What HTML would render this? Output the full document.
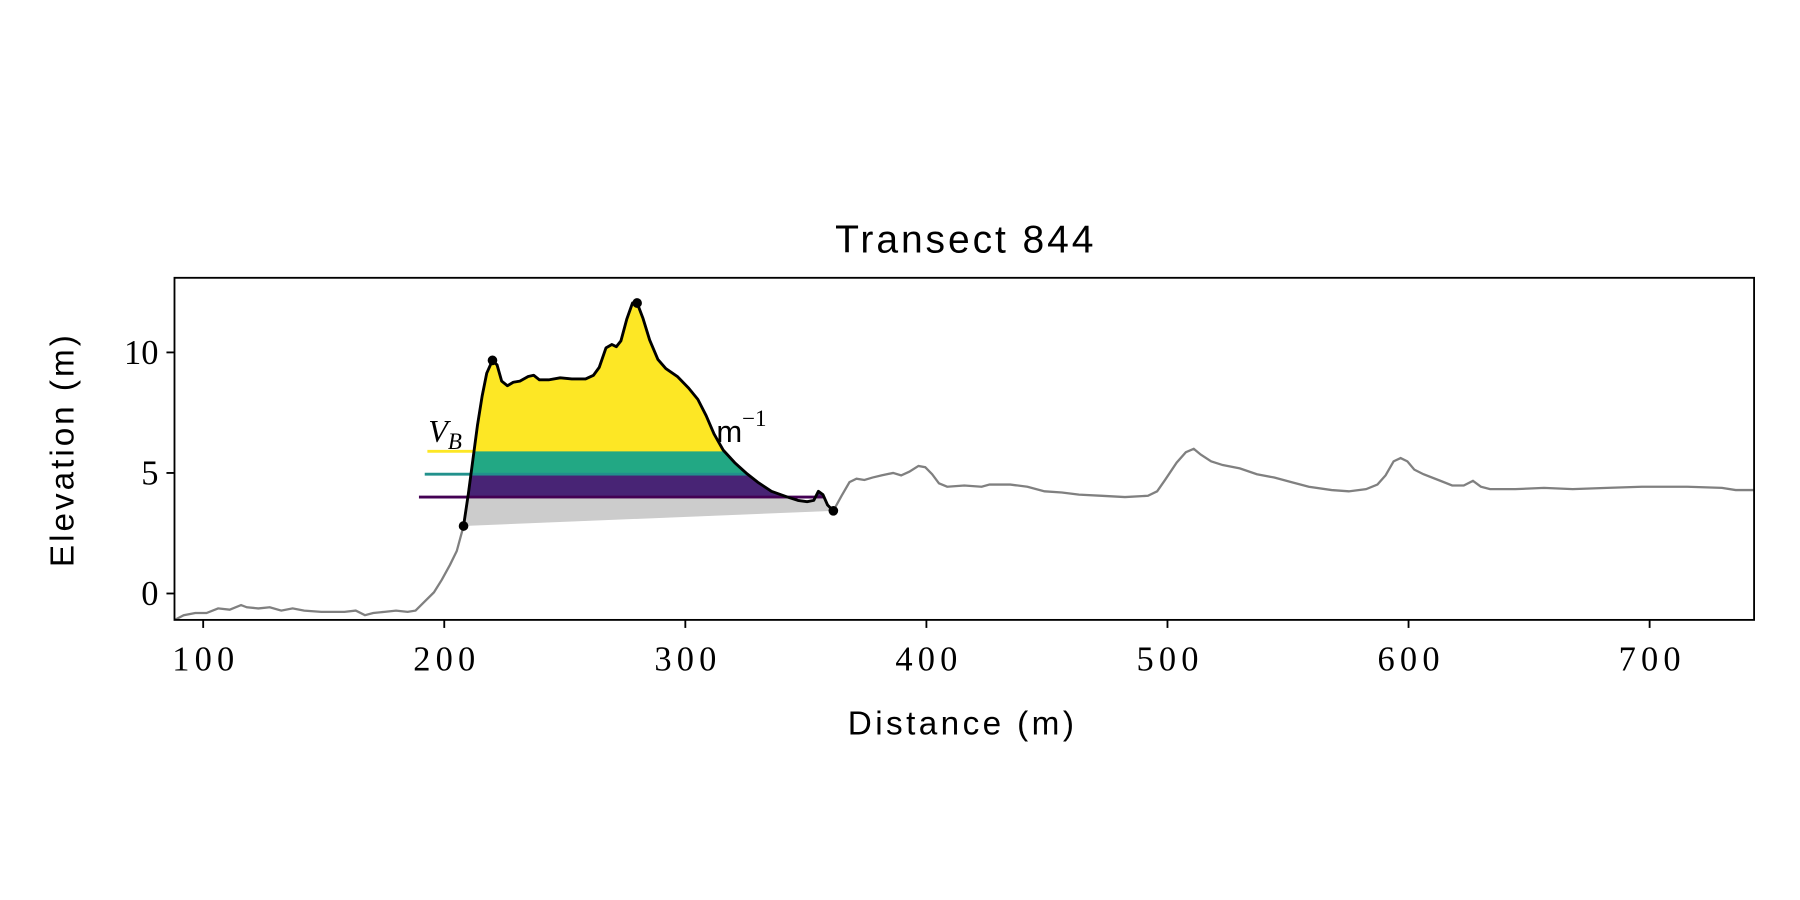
<!DOCTYPE html>
<html><head><meta charset="utf-8"><style>
html,body{margin:0;padding:0;background:#fff;}
svg{display:block;}
</style></head><body>
<svg id="chart" width="1800" height="900" viewBox="0 0 1568 784" xmlns="http://www.w3.org/2000/svg">
<rect x="0" y="0" width="1568" height="784" fill="#fff"/>
<text x="840" y="220" text-anchor="middle" font-family="Liberation Sans, sans-serif" font-size="34" textLength="225">Transect 844</text>
<text x="837" y="640" text-anchor="middle" font-family="Liberation Sans, sans-serif" font-size="29" textLength="197">Distance (m)</text>
<text transform="translate(64,393) rotate(-90)" text-anchor="middle" font-family="Liberation Sans, sans-serif" font-size="29" textLength="202">Elevation (m)</text>
<g id="plot"></g>
</svg>
<script>
// ---- data ----
const grayX = [88.1,91.9,96.7,101.4,106.2,111.0,115.7,118.1,122.9,127.6,132.4,137.1,141.9,149.0,158.6,163.3,167.1,170.5,175.2,180.0,184.8,188.1,191.9,195.7,199.0,202.4,205.2,208,210,211.9,213.8,215.7,217.6,220,221.9,223.8,226.2,228.6,231.4,234.8,237.1,239.5,243.3,248.1,252.9,258.6,261.9,264.3,267.1,269.5,271.4,273.3,275.7,278.1,280,282.4,285.2,288.6,291.9,296.7,301.4,305.2,308.6,311.9,315.7,320.5,325.2,330,335.7,342.4,346.7,350.5,353.3,355.2,357.1,359,361.4,364.8,368.1,371,374.3,377.6,381.4,386.2,389.5,392.9,396.7,399.5,402.4,405.2,408.6,415.7,422.9,426.2,434.8,441.9,449,456.2,463.3,472.9,482.4,491.9,495.7,499,503.8,507.6,510.9,513.8,518.1,522.9,530,537.1,544.3,551.4,558.6,568.1,575.2,582.4,587.1,590.5,593.8,596.7,599.5,602.4,606.2,613.3,618.1,622.9,626.7,630,633.8,644.3,656.2,668.1,682.4,696.7,715.7,730,735.7,743.3];
const grayY = [-1.10,-0.90,-0.81,-0.81,-0.62,-0.67,-0.48,-0.57,-0.62,-0.57,-0.71,-0.62,-0.71,-0.76,-0.76,-0.71,-0.90,-0.81,-0.76,-0.71,-0.76,-0.71,-0.33,0.05,0.57,1.19,1.76,2.8,4.14,5.57,7.0,8.19,9.14,9.67,9.48,8.81,8.62,8.76,8.81,9.0,9.05,8.86,8.86,8.95,8.9,8.9,9.05,9.38,10.19,10.33,10.24,10.48,11.38,12.05,12.05,11.43,10.52,9.71,9.33,9.0,8.52,8.05,7.38,6.62,5.95,5.43,5.0,4.62,4.24,4.0,3.86,3.81,3.86,4.24,4.1,3.67,3.43,4.05,4.62,4.76,4.71,4.81,4.9,5.0,4.9,5.05,5.29,5.24,4.95,4.57,4.43,4.48,4.43,4.52,4.52,4.43,4.24,4.19,4.1,4.05,4.0,4.05,4.24,4.71,5.43,5.86,6.0,5.76,5.48,5.33,5.19,4.95,4.81,4.62,4.43,4.29,4.24,4.33,4.52,4.9,5.48,5.62,5.48,5.14,4.95,4.67,4.48,4.48,4.67,4.43,4.33,4.33,4.38,4.33,4.38,4.43,4.43,4.38,4.29,4.29];
const duneStart = 208, duneEnd = 361.4;
const markerX = [208,220,280,361.4];
const markerY = [2.8,9.67,12.05,3.43];
const levels = [4.0, 4.95, 5.9];
const levelColors = ['#440154','#21918c','#fde725'];
const bandColors = ['#cccccc','#482475','#22a884','#fde725'];
const levelStartX = [189.5, 191.9, 193.0];
const xTicks = [100,200,300,400,500,600,700];
const yTicks = [0,5,10];

// ---- axes ----
const L=152,R=1528,T=242,B=540;
const X = v => 177 + (v-100)*2.1;
const Y = v => 517 - v*21;
const NS='http://www.w3.org/2000/svg';
const plot=document.getElementById('plot');
function mk(tag, attrs, parent){const e=document.createElementNS(NS,tag);for(const k in attrs)e.setAttribute(k,attrs[k]);(parent||plot).appendChild(e);return e;}

const defs=mk('defs',{});
const clip=mk('clipPath',{id:'axclip'},defs);
mk('rect',{x:L,y:T,width:R-L,height:B-T},clip);

// annotation text (behind fills)
const ann=mk('text',{x:373,y:385,'font-family':'Liberation Serif, serif','font-size':28,'font-style':'italic'});


ann.innerHTML='V<tspan font-size="20" dy="6">B</tspan>';
const ann2=mk('text',{x:624,y:385,'font-family':'Liberation Sans, sans-serif','font-size':27});


ann2.innerHTML='m<tspan font-family="Liberation Serif, serif" font-size="20" dy="-14">−1</tspan>';

// gray full profile
let gp='';
grayX.forEach((x,i)=>{gp+=(i?'L':'M')+X(x).toFixed(1)+','+Y(grayY[i]).toFixed(1);});
const gline=mk('path',{d:gp,fill:'none',stroke:'#808080','stroke-width':2,'clip-path':'url(#axclip)'});



// dune polygon clip
const idx=[];grayX.forEach((x,i)=>{if(x>=duneStart-0.01&&x<=duneEnd+0.01)idx.push(i);});
let dp='';
idx.forEach((i,k)=>{dp+=(k?'L':'M')+X(grayX[i]).toFixed(1)+','+Y(grayY[i]).toFixed(1);});
dp+='Z';
const dclip=mk('clipPath',{id:'duneclip'},defs);
mk('path',{d:dp},dclip);

// level lines
levels.forEach((lv,i)=>{
  let xr=duneEnd;
  for(let k=idx.length-1;k>0;k--){const a=idx[k-1],b=idx[k];if(grayY[a]>=lv&&grayY[b]<lv){xr=grayX[a]+(grayX[b]-grayX[a])*(grayY[a]-lv)/(grayY[a]-grayY[b]);break;}}
  const ln=mk('line',{x1:X(levelStartX[i]),x2:X(xr),y1:Y(lv),y2:Y(lv),stroke:levelColors[i],'stroke-width':2.5});
  
  
});

// bands
const bounds=[-2].concat(levels).concat([14]);
const bandG=mk('g',{'clip-path':'url(#duneclip)'});


for(let i=0;i<bandColors.length;i++){
  const r=mk('rect',{x:X(duneStart)-2,width:X(duneEnd)-X(duneStart)+4,y:Y(bounds[i+1]),height:Y(bounds[i])-Y(bounds[i+1]),fill:bandColors[i]},bandG);
  
  
}
// redraw level strips inside bands
levels.slice(0,2).forEach((lv,i)=>{
  const s=mk('rect',{x:X(duneStart)-2,width:X(duneEnd)-X(duneStart)+4,y:Y(lv)-1.2,height:2.4,fill:levelColors[i]},bandG);
  
  
});

// black dune profile
let bp='';
idx.forEach((i,k)=>{bp+=(k?'L':'M')+X(grayX[i]).toFixed(1)+','+Y(grayY[i]).toFixed(1);});
const bl=mk('path',{d:bp,fill:'none',stroke:'#000','stroke-width':2.5,'stroke-linejoin':'round'});



markerX.forEach((x,i)=>{
  const c=mk('circle',{cx:X(x),cy:Y(markerY[i]),r:4.2,fill:'#000'});
  
  
});

// frame
const fr=mk('rect',{x:L,y:T,width:R-L,height:B-T,fill:'none',stroke:'#000','stroke-width':1.6});



xTicks.forEach(t=>{
  const l=mk('line',{x1:X(t),x2:X(t),y1:B,y2:B+7,stroke:'#000','stroke-width':1.6});
  
  
  const tx=mk('text',{x:X(t),y:B+44,'text-anchor':'middle','font-family':'Liberation Serif, serif','font-size':30,textLength:54});
  
  
  tx.textContent=t;
});
yTicks.forEach(t=>{
  const l=mk('line',{x1:L-7,x2:L,y1:Y(t),y2:Y(t),stroke:'#000','stroke-width':1.6});
  
  
  const tx=mk('text',{x:L-14,y:Y(t)+10,'text-anchor':'end','font-family':'Liberation Serif, serif','font-size':30});
  
  
  tx.textContent=t;
});
</script>
</body></html>
